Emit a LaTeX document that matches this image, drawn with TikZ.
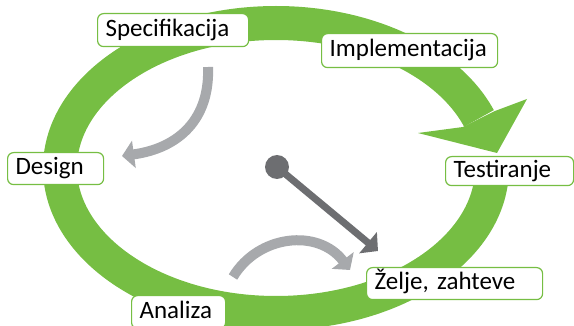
\documentclass[tikz,border=0pt]{standalone}
\usepackage{fontspec}
\setmainfont{Carlito}[WordSpace=0.8]
\usetikzlibrary{arrows.meta}
\definecolor{ringgreen}{RGB}{118,190,67}
\definecolor{lightarrow}{RGB}{167,169,172}
\definecolor{darkarrow}{RGB}{109,110,113}
\frenchspacing
\begin{document}
\begin{tikzpicture}[x=1pt,y=-1pt,
  stage/.style={draw=ringgreen, line width=1.2pt, fill=white, rounded corners=6pt,
    anchor=north west, inner xsep=8pt, inner ysep=0pt, text height=17pt, text depth=5pt,
    align=left, font=\fontsize{25}{29}\selectfont},
  ring/.style={ringgreen, line width=34pt},
  lightflow/.style={lightarrow, line width=10pt, -{Triangle[length=12pt,width=27pt]}},
  darkflow/.style={darkarrow, line width=7pt, -{Triangle[length=13pt,width=27pt]}}]
\useasboundingbox (0,0) rectangle (574,326);
% green cycle
\draw[ring] (492,168) arc[start angle=0, end angle=340, x radius=216, y radius=145];
\fill[ringgreen] (463,127) -- (418,133) -- (497,153) -- (527,99) -- (495,111) -- cycle;
% gray arrows
\coordinate (g1s) at (208,67);
\coordinate (g1e) at (122,156);
\draw[lightflow] (g1s) .. controls (210,118) and (180,148) .. (g1e);
\coordinate (g2s) at (233,277);
\coordinate (g2e) at (350,270);
\draw[lightflow] (g2s) .. controls (258,235) and (318,228) .. (g2e);
\node[circle, fill=darkarrow, minimum size=24pt, inner sep=0pt] (dot) at (277,167) {};
\coordinate (dend) at (378,251);
\draw[darkflow] (dot.center) -- (dend);
% stages
\node[stage, text width=135pt, minimum height=33pt] (spec) at (97,13) {Specifikacija};
\node[stage, text width=160pt, minimum height=34pt] (impl) at (321,33) {Implementacija};
\node[stage, text width=112pt, minimum height=29pt] (test) at (445,156) {Testiranje};
\node[stage, text width=80pt, minimum height=32pt] (design) at (7,152) {Design};
\node[stage, text width=78pt, minimum height=33pt] (anal) at (131,295) {Analiza};
\node[stage, text width=160pt, minimum height=32pt] (zelje) at (366,267) {Želje, zahteve};
\end{tikzpicture}
\end{document}
